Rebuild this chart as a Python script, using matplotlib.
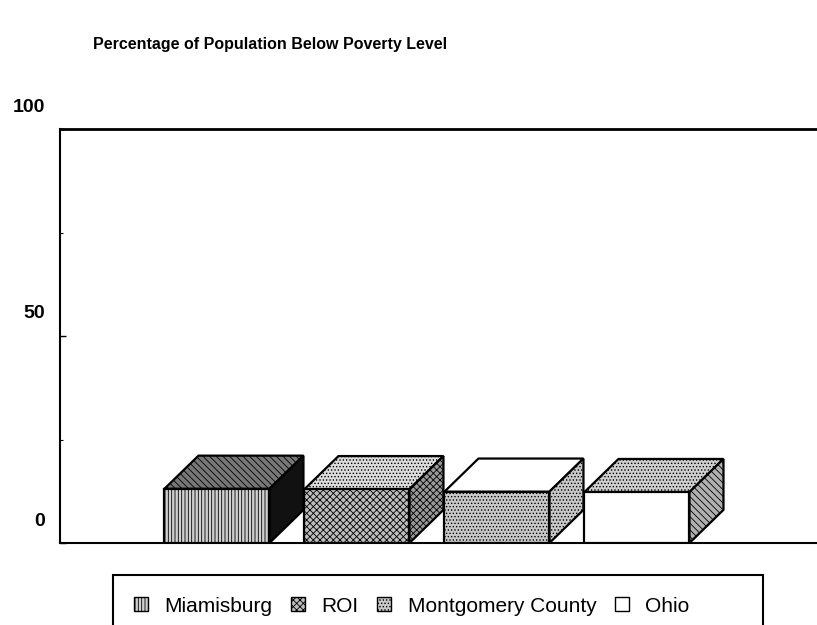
import numpy as np
import matplotlib.pyplot as plt
from matplotlib.patches import Polygon, Patch, Rectangle
from matplotlib.transforms import ScaledTranslation

# data
regions = ['Miamisburg', 'ROI', 'Montgomery County', 'Ohio']
poverty_pct = [13.1, 13.0, 12.4, 12.3]
y_ticks = [0, 50, 100]
y_tick_labels = ['0', '50', '100']
y_minor = [25, 75]

plt.rcParams['font.family'] = ['Liberation Sans', 'DejaVu Sans']
plt.rcParams['hatch.linewidth'] = 0.6

fig = plt.figure(figsize=(8.17, 6.25), dpi=100)
ax = fig.add_axes([60 / 817, 82 / 625, 757 / 817, 414 / 625])

width = 0.75
dx, dy = 0.243, 8.0  # depth of the boxes in data units

# (facecolor, hatch) for front, top and side faces of each box
styles = [
    [('#d0d0d0', '|||||'), ('#777777', '\\\\\\\\\\'), ('#111111', '')],
    [('#bdbdbd', 'xxxxx'), ('#dcdcdc', '.....'), ('#999999', 'xxxxx')],
    [('#c8c8c8', '.....'), ('white', ''), ('#c8c8c8', '.....')],
    [('white', ''), ('#cfcfcf', '.....'), ('#b0b0b0', '\\\\\\\\\\')],
]

x = np.arange(len(regions))
bars = ax.bar(x, poverty_pct, width, color='white', edgecolor='black',
              linewidth=1.6, zorder=3)

for b, h, st in zip(bars, poverty_pct, styles):
    xl = b.get_x()
    xr = xl + b.get_width()
    b.set_facecolor(st[0][0])
    b.set_hatch(st[0][1])
    top = Polygon([(xl, h), (xr, h), (xr + dx, h + dy), (xl + dx, h + dy)],
                  closed=True, facecolor=st[1][0], hatch=st[1][1],
                  edgecolor='black', linewidth=1.6, zorder=2)
    side = Polygon([(xr, 0), (xr + dx, dy), (xr + dx, h + dy), (xr, h)],
                   closed=True, facecolor=st[2][0], hatch=st[2][1],
                   edgecolor='black', linewidth=1.6, zorder=2)
    ax.add_patch(top)
    ax.add_patch(side)

ax.set_xlim(-1.121, 4.286)
ax.set_ylim(0, 100)
ax.set_xticks([])
ax.set_yticks(y_ticks)
ax.set_yticklabels(y_tick_labels, fontsize=14, fontweight='bold')
ax.set_yticks(y_minor, minor=True)
ax.tick_params(axis='y', which='major', direction='in', length=4, width=1, pad=11)
ax.tick_params(axis='y', which='minor', direction='in', length=2, width=0.8)

# labels sit above their tick level in the original
offset = ScaledTranslation(0, 0.24, fig.dpi_scale_trans)
for lab in ax.get_yticklabels():
    lab.set_transform(lab.get_transform() + offset)

ax.spines['right'].set_visible(False)
ax.spines['top'].set_linewidth(2)
ax.spines['left'].set_linewidth(1.5)
ax.spines['bottom'].set_linewidth(1.5)

fig.text(93 / 817, 1 - 45 / 625, 'Percentage of Population Below Poverty Level',
         ha='left', va='center', fontsize=11.5, fontweight='bold')

# legend box, cut off by the bottom edge of the page
fig.patches.append(Rectangle((113 / 817, -0.05), 650 / 817, 0.05 + 50 / 625,
                             transform=fig.transFigure, facecolor='none',
                             edgecolor='black', linewidth=1.5))

handles = [Patch(facecolor=st[0][0], hatch=st[0][1], edgecolor='black')
           for st in styles]
leg = fig.legend(handles, regions, loc='center left',
                 bbox_to_anchor=(126 / 817, 1 - 606 / 625),
                 ncol=4, frameon=False, fontsize=15,
                 handlelength=0.65, handleheight=0.65,
                 handletextpad=0.8, columnspacing=0.9, borderaxespad=0)

fig.savefig('out.png', dpi=100)
